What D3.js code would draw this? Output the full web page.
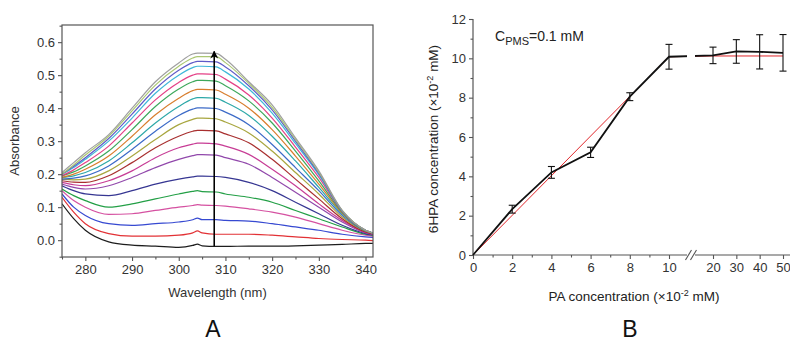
<!DOCTYPE html>
<html><head><meta charset="utf-8">
<script src="https://cdn.jsdelivr.net/npm/d3@7/dist/d3.min.js"></script>
<style>
body{margin:0;background:#fff;}
svg{display:block;font-family:"Liberation Sans",Arial,sans-serif;}
</style></head>
<body><svg id="c" width="790" height="343"></svg>
<script>
// ---------- Panel A data ----------
const wavelengths = [275, 277.5, 280, 285, 290, 295, 300, 303, 304, 305, 308, 310, 315, 320, 325, 330, 335, 340, 342];
const spectra = [
  [0.11, 0.065, 0.03, -0.005, -0.015, -0.018, -0.022, -0.016, -0.012, -0.017, -0.019, -0.019, -0.018, -0.018, -0.017, -0.015, -0.013, -0.01, -0.01],
  [0.13, 0.085, 0.05, 0.02, 0.012, 0.012, 0.015, 0.022, 0.028, 0.022, 0.018, 0.018, 0.018, 0.015, 0.01, 0.005, 0.002, 0.0, -0.002],
  [0.14, 0.1, 0.075, 0.05, 0.045, 0.05, 0.055, 0.062, 0.067, 0.062, 0.062, 0.06, 0.058, 0.05, 0.04, 0.03, 0.018, 0.01, 0.008],
  [0.15, 0.12, 0.1, 0.078, 0.08, 0.09, 0.1, 0.105, 0.108, 0.106, 0.105, 0.103, 0.095, 0.085, 0.07, 0.05, 0.03, 0.015, 0.012],
  [0.155, 0.135, 0.12, 0.1, 0.11, 0.125, 0.14, 0.148, 0.15, 0.147, 0.146, 0.14, 0.13, 0.115, 0.09, 0.065, 0.04, 0.018, 0.014],
  [0.165, 0.15, 0.14, 0.135, 0.15, 0.17, 0.185, 0.192, 0.194, 0.194, 0.193, 0.19, 0.175, 0.15, 0.115, 0.08, 0.045, 0.02, 0.015],
  [0.17, 0.16, 0.155, 0.165, 0.19, 0.22, 0.245, 0.256, 0.259, 0.259, 0.258, 0.25, 0.23, 0.19, 0.145, 0.1, 0.055, 0.022, 0.016],
  [0.175, 0.168, 0.165, 0.18, 0.21, 0.25, 0.28, 0.291, 0.294, 0.294, 0.292, 0.285, 0.26, 0.215, 0.165, 0.11, 0.06, 0.024, 0.017],
  [0.18, 0.176, 0.175, 0.195, 0.235, 0.28, 0.315, 0.33, 0.333, 0.333, 0.331, 0.322, 0.295, 0.245, 0.185, 0.125, 0.065, 0.025, 0.018],
  [0.185, 0.183, 0.185, 0.21, 0.255, 0.305, 0.35, 0.366, 0.37, 0.37, 0.368, 0.358, 0.325, 0.27, 0.205, 0.14, 0.07, 0.027, 0.019],
  [0.185, 0.188, 0.195, 0.225, 0.275, 0.33, 0.378, 0.397, 0.401, 0.401, 0.399, 0.388, 0.35, 0.29, 0.22, 0.15, 0.075, 0.028, 0.02],
  [0.19, 0.195, 0.205, 0.24, 0.295, 0.355, 0.405, 0.428, 0.432, 0.432, 0.43, 0.418, 0.378, 0.315, 0.24, 0.16, 0.08, 0.029, 0.02],
  [0.19, 0.2, 0.215, 0.255, 0.315, 0.38, 0.43, 0.453, 0.457, 0.457, 0.455, 0.442, 0.4, 0.335, 0.255, 0.17, 0.082, 0.029, 0.02],
  [0.195, 0.207, 0.225, 0.27, 0.335, 0.405, 0.458, 0.48, 0.484, 0.484, 0.482, 0.468, 0.422, 0.355, 0.27, 0.18, 0.085, 0.03, 0.02],
  [0.195, 0.213, 0.235, 0.285, 0.355, 0.425, 0.478, 0.5, 0.504, 0.504, 0.502, 0.488, 0.44, 0.37, 0.282, 0.19, 0.087, 0.03, 0.02],
  [0.2, 0.22, 0.245, 0.3, 0.37, 0.445, 0.5, 0.523, 0.527, 0.527, 0.525, 0.51, 0.458, 0.385, 0.293, 0.198, 0.088, 0.03, 0.02],
  [0.2, 0.224, 0.25, 0.308, 0.382, 0.458, 0.515, 0.538, 0.542, 0.542, 0.54, 0.525, 0.468, 0.395, 0.3, 0.202, 0.089, 0.03, 0.02],
  [0.2, 0.228, 0.258, 0.315, 0.392, 0.47, 0.527, 0.552, 0.556, 0.556, 0.556, 0.538, 0.475, 0.402, 0.305, 0.206, 0.09, 0.03, 0.02],
  [0.205, 0.235, 0.265, 0.32, 0.40, 0.48, 0.537, 0.564, 0.567, 0.567, 0.566, 0.548, 0.48, 0.41, 0.31, 0.21, 0.09, 0.03, 0.02]
];
const spectraColors = ["#111111","#e0262a","#2b3fcf","#d3489c","#179a3c","#2b2b8c","#8b3ea6","#c4318f","#a32424","#a3a135","#3262c4","#22a3a3","#d67622","#33a352","#e3367f","#34b3d6","#5652c4","#a6c46a","#9a9a9a"];
const wlTicks = [280, 290, 300, 310, 320, 330, 340];
const absTicks = [0.0, 0.1, 0.2, 0.3, 0.4, 0.5, 0.6];
const arrowWl = 307.6, arrowFrom = -0.018, arrowTo = 0.572;

// ---------- Panel B data ----------
const paConc = [0, 2, 4, 6, 8, 10, 20, 30, 40, 50];
const hpaConc = [0, 2.33, 4.2, 5.22, 8.05, 10.08, 10.15, 10.35, 10.33, 10.28];
const hpaErr  = [0, 0.2, 0.3, 0.26, 0.2, 0.63, 0.42, 0.6, 0.87, 0.93];
const fitX = [0, 10, 20, 30, 40, 50];
const fitY = [0, 10.08, 10.12, 10.12, 10.12, 10.12];
const paTicks = [0, 2, 4, 6, 8, 10, 20, 30, 40, 50];
const paMinor = [1, 3, 5, 7, 9];
const hpaTicks = [0, 2, 4, 6, 8, 10, 12];
const hpaMinor = [1, 3, 5, 7, 9, 11];

const svg = d3.select("#c");
const axisCol = "#555";
const txtCol = "#333";
const tickFs = "13px";

// ================= Panel A =================
const A = {l: 62, t: 25, r: 373, b: 257};
const xA = d3.scaleLinear().domain([275, 341.6]).range([A.l, A.r]);
const yA = d3.scaleLinear().domain([-0.051, 0.652]).range([A.b, A.t]);
const gA = svg.append("g");

svg.append("clipPath").attr("id","clipA").append("rect")
  .attr("x", A.l).attr("y", A.t).attr("width", A.r - A.l).attr("height", A.b - A.t);

const lineA = d3.line().x((d,i)=>xA(wavelengths[i])).y(d=>yA(d)).curve(d3.curveMonotoneX);
gA.append("g").attr("clip-path","url(#clipA)").selectAll("path").data(spectra).join("path")
  .attr("d", d=>lineA(d)).attr("fill","none")
  .attr("stroke",(d,i)=>spectraColors[i]).attr("stroke-width",1.2).attr("stroke-opacity",0.95);

gA.append("rect").attr("x",A.l).attr("y",A.t).attr("width",A.r-A.l).attr("height",A.b-A.t)
  .attr("fill","none").attr("stroke",axisCol).attr("stroke-width",1.2);

const axA_x = gA.append("g").attr("transform",`translate(0,${A.b})`)
  .call(d3.axisBottom(xA).tickValues(wlTicks).tickSize(4).tickPadding(4).tickFormat(d3.format("d")));
const axA_xm = gA.append("g").attr("transform",`translate(0,${A.b})`)
  .call(d3.axisBottom(xA).tickValues(d3.range(275, 342, 5).filter(v=>v%10!==0)).tickSize(2.5).tickFormat(""));
const axA_y = gA.append("g").attr("transform",`translate(${A.l},0)`)
  .call(d3.axisLeft(yA).tickValues(absTicks).tickSize(4).tickPadding(3).tickFormat(d3.format(".1f")));
const axA_ym = gA.append("g").attr("transform",`translate(${A.l},0)`)
  .call(d3.axisLeft(yA).tickValues([-0.05,0.05,0.15,0.25,0.35,0.45,0.55,0.65]).tickSize(2.5).tickFormat(""));
[axA_x,axA_xm,axA_y,axA_ym].forEach(g=>{
  g.select(".domain").remove();
  g.selectAll("line").attr("stroke",axisCol).attr("stroke-width",1.1);
  g.selectAll("text").attr("fill",txtCol).style("font-size",tickFs);
});

svg.append("defs").append("marker").attr("id","ah").attr("viewBox","0 0 10 10")
  .attr("refX",9).attr("refY",5).attr("markerWidth",5).attr("markerHeight",6).attr("orient","auto")
  .append("path").attr("d","M0,0 L10,5 L0,10 L3,5 Z").attr("fill","#000");
gA.append("line").attr("x1",xA(arrowWl)).attr("x2",xA(arrowWl))
  .attr("y1",yA(arrowFrom)).attr("y2",yA(arrowTo))
  .attr("stroke","#000").attr("stroke-width",1.6).attr("marker-end","url(#ah)");

gA.append("text").attr("transform",`translate(19,${(A.t+A.b)/2}) rotate(-90)`)
  .attr("text-anchor","middle").attr("fill",txtCol).style("font-size","13px").text("Absorbance");
gA.append("text").attr("x",(A.l+A.r)/2).attr("y",297).attr("text-anchor","middle")
  .attr("fill",txtCol).style("font-size","13px").text("Wavelength (nm)");
gA.append("text").attr("x",213).attr("y",337).attr("text-anchor","middle")
  .attr("fill","#111").style("font-size","23px").text("A");

// ================= Panel B =================
const B = {l: 473, t: 19, b: 255, r: 790};
const xB = d3.scaleLinear().domain([0, 10, 20, 50]).range([473, 669, 713, 783]);
const yB = d3.scaleLinear().domain([0, 12]).range([B.b, B.t]);
const gB = svg.append("g");
const breakX = 15;
const bx = xB(breakX);

gB.append("line").attr("x1",B.l).attr("x2",B.l).attr("y1",B.t).attr("y2",B.b).attr("stroke",axisCol).attr("stroke-width",1.2);
gB.append("line").attr("x1",B.l).attr("x2",bx-4).attr("y1",B.b).attr("y2",B.b).attr("stroke",axisCol).attr("stroke-width",1.2);
gB.append("line").attr("x1",bx+4).attr("x2",B.r).attr("y1",B.b).attr("y2",B.b).attr("stroke",axisCol).attr("stroke-width",1.2);
[-2.5, 2.5].forEach(o=>{
  gB.append("line").attr("x1",bx+o-3).attr("x2",bx+o+3).attr("y1",B.b+5).attr("y2",B.b-5)
    .attr("stroke",axisCol).attr("stroke-width",1.1);
});

const axB_x = gB.append("g").attr("transform",`translate(0,${B.b})`)
  .call(d3.axisBottom(xB).tickValues(paTicks).tickSize(4).tickPadding(4).tickFormat(d3.format("d")));
const axB_xm = gB.append("g").attr("transform",`translate(0,${B.b})`)
  .call(d3.axisBottom(xB).tickValues(paMinor).tickSize(2.5).tickFormat(""));
const axB_y = gB.append("g").attr("transform",`translate(${B.l},0)`)
  .call(d3.axisLeft(yB).tickValues(hpaTicks).tickSize(4).tickPadding(3).tickFormat(d3.format("d")));
const axB_ym = gB.append("g").attr("transform",`translate(${B.l},0)`)
  .call(d3.axisLeft(yB).tickValues(hpaMinor).tickSize(2.5).tickFormat(""));
[axB_x,axB_xm,axB_y,axB_ym].forEach(g=>{
  g.select(".domain").remove();
  g.selectAll("line").attr("stroke",axisCol).attr("stroke-width",1.1);
  g.selectAll("text").attr("fill",txtCol).style("font-size",tickFs);
});

svg.append("clipPath").attr("id","clipB").selectAll("rect").data([[B.l-5, bx-4],[bx+4, B.r]]).join("rect")
  .attr("x",d=>d[0]).attr("y",0).attr("width",d=>d[1]-d[0]).attr("height",B.b+2);

const lineB = d3.line().x(d=>xB(d[0])).y(d=>yB(d[1]));
const gLines = gB.append("g").attr("clip-path","url(#clipB)");
gLines.append("path").attr("d", lineB(fitX.map((x,i)=>[x,fitY[i]])))
  .attr("fill","none").attr("stroke","#e0262a").attr("stroke-width",1);
gLines.append("path").attr("d", lineB(paConc.map((x,i)=>[x,hpaConc[i]])))
  .attr("fill","none").attr("stroke","#111").attr("stroke-width",1.8);

const eb = gB.append("g").attr("stroke","#111").attr("stroke-width",1.1);
paConc.forEach((x,i)=>{
  if (hpaErr[i] <= 0) return;
  const px = xB(x), y1 = yB(hpaConc[i]-hpaErr[i]), y2 = yB(hpaConc[i]+hpaErr[i]);
  eb.append("line").attr("x1",px).attr("x2",px).attr("y1",y1).attr("y2",y2);
  eb.append("line").attr("x1",px-3.5).attr("x2",px+3.5).attr("y1",y1).attr("y2",y1);
  eb.append("line").attr("x1",px-3.5).attr("x2",px+3.5).attr("y1",y2).attr("y2",y2);
});

const ann = gB.append("text").attr("x",495).attr("y",41).attr("fill","#222").style("font-size","14px");
ann.append("tspan").text("C");
ann.append("tspan").attr("dy",4).style("font-size","11px").text("PMS");
ann.append("tspan").attr("dy",-4).text("=0.1 mM");

const yl = gB.append("text").attr("transform",`translate(438,${(B.t+B.b)/2+2}) rotate(-90)`)
  .attr("text-anchor","middle").attr("fill","#222").style("font-size","13.5px");
yl.append("tspan").text("6HPA concentration (\u00d710");
yl.append("tspan").attr("dy",-5).style("font-size","9px").text("-2");
yl.append("tspan").attr("dy",5).text(" mM)");

const xl = gB.append("text").attr("x",634).attr("y",301).attr("text-anchor","middle")
  .attr("fill","#222").style("font-size","13.5px");
xl.append("tspan").text("PA concentration (\u00d710");
xl.append("tspan").attr("dy",-5).style("font-size","9px").text("-2");
xl.append("tspan").attr("dy",5).text(" mM)");

gB.append("text").attr("x",630).attr("y",337).attr("text-anchor","middle")
  .attr("fill","#111").style("font-size","23px").text("B");
</script>
</body></html>
